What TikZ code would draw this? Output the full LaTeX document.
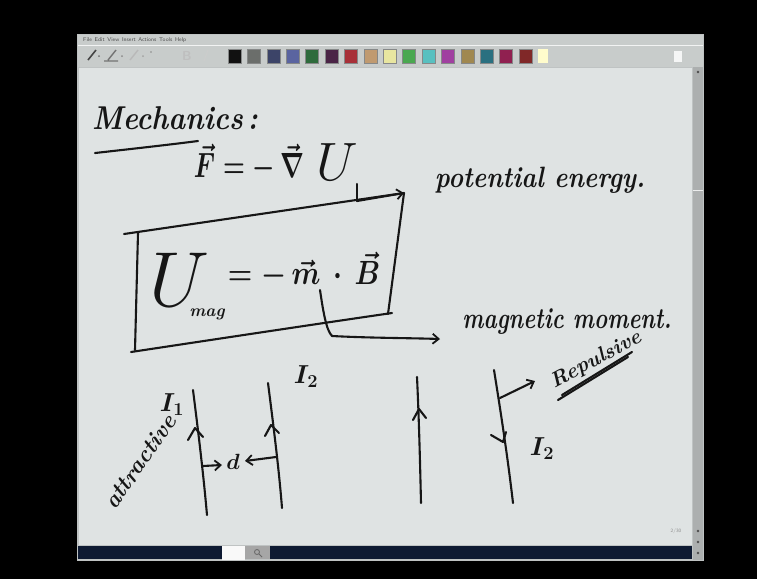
\RequirePackage{fix-cm}
\documentclass[tikz,border=0pt]{standalone}
\usetikzlibrary{arrows.meta}
\definecolor{inkc}{HTML}{161616}
\definecolor{pagec}{HTML}{DFE3E3}
\definecolor{winc}{HTML}{BFC3C3}
\definecolor{barc}{HTML}{C8CCCB}
\definecolor{navyc}{HTML}{0E1A32}
\begin{document}
\begin{tikzpicture}[x=1pt,y=-1pt,
  ink/.style={draw=inkc,line width=2.1pt,line cap=round,line join=round},
  inkarrow/.style={ink,-{Straight Barb[length=6pt,width=10pt,line width=1.8pt]}},
  hand/.style={text=inkc,font=\fontsize{#1}{#1}\selectfont\bfseries\itshape,inner sep=0pt},
  mhand/.style={text=inkc,font=\fontsize{#1}{#1}\selectfont\mathversion{bold},inner sep=0pt},
  bighand/.style={text=inkc,font=\fontsize{#1}{#1}\selectfont,inner sep=0pt},
  swatch/.style={fill=#1,minimum width=13pt,minimum height=14pt,inner sep=0pt,draw=winc!70!black,line width=0.3pt},
  tiny/.style={font=\fontsize{5.5}{6}\selectfont\sffamily,text=black!70,inner sep=0pt}]
\useasboundingbox (0,0) rectangle (757,579);
\fill[black] (0,0) rectangle (757,579);
% window
\fill[winc] (77,34) rectangle (704,561);
\fill[barc] (78,35) rectangle (703,45);
\node[tiny,anchor=west] (menu) at (83,40) {File\enspace Edit\enspace View\enspace Insert\enspace Actions\enspace Tools\enspace Help};
\fill[barc] (78,46) rectangle (703,67);
\draw[white!80!winc,line width=0.6pt] (78,45.5) -- (703,45.5);
% pen tools
\draw[inkc!80,line width=1.6pt] (88,60) -- (96,50);
\fill[inkc!60] (99,56) circle (1pt);
\draw[inkc!60,line width=1.4pt] (108,60) -- (116,50) (104,61) -- (118,61);
\fill[inkc!50] (122,56) circle (1pt);
\draw[inkc!30,line width=1.4pt] (130,60) -- (138,50);
\fill[inkc!40] (143,56) circle (1pt);
\fill[inkc!50] (151,52) circle (0.8pt);
\node[tiny,text=black!25,font=\fontsize{13}{13}\selectfont\bfseries\sffamily] (bold) at (187,56) {B};
\draw[black!20,line width=1pt] (204,61) -- (208,50);
% colour swatches
\foreach \c [count=\i] in {111111,6B6E6B,3C4468,5A64A0,2E6B3C,4A2446,A83038,C09A70,E8E6A0,4AA850,58C0C0,A040A0,A08850,2A7080,902050,802828}{
  \definecolor{sw}{HTML}{\c}
  \node[swatch=sw] (sw\i) at ({215+19.4*\i},56) {};
}
\node[swatch=white!80!yellow,draw=none,minimum width=10pt] (sw17) at (543,56) {};
\fill[white!85!winc] (674,51) rectangle (682,62);
% page
\fill[pagec] (79,68) rectangle (692,545);
% right scrollbar
\fill[winc!90!black] (693,67) rectangle (703,560);
\fill[black!70] (698,72) circle (1.3pt) (698,531) circle (1.3pt) (698,542) circle (1.3pt) (698,553) circle (1.3pt);
\draw[white!70!winc,line width=1pt] (692.5,190) -- (703,190);
% bottom scrollbar
\fill[navyc] (78,546) rectangle (692,559);
\fill[white!90!winc] (222,546) rectangle (245,560);
\fill[black!35] (245,546) rectangle (270,559);
\draw[black!60,line width=0.8pt] (257,552) circle (2.5pt) (259,554) -- (262,557);
\node[tiny,text=black!45,font=\fontsize{5}{5}\selectfont\sffamily] (pg) at (676,531) {2/30};

% ---------- handwriting ----------
\node[hand=30] (mech) at (175,118) {\scalebox{0.95}[1.1]{Mechanics\,:}};
\draw[ink] (95,153) .. controls (140,148) and (175,144) .. (198,141);

\node[mhand=25] (F) at (249,163) {\scalebox{1}[1.4]{$\vec{F} = -\,\vec{\nabla}$}};
\node[bighand=54] (U) at (337,162) {$U$};
\node[hand=28] (pe) at (540,180) {\scalebox{0.9}[1.05]{potential energy.}};
\coordinate (Ut) at (357,184);
\draw[ink] (Ut) -- (357,201);
\draw[inkarrow] (357,201) -- (404,193);

% box
\draw[ink] (124,234) -- (404,193);
\draw[ink] (404,193) -- (388,314);
\draw[ink] (138,233) -- (135,350);
\draw[ink] (131,352) .. controls (250,334) and (330,322) .. (392,313);

\node[bighand=78] (Umag) at (180,280) {$U$};
\node[hand=17] (mag) at (207,314) {mag};
\node[mhand=28] (mB) at (304,271) {\scalebox{1}[1.2]{$=-\,\vec{m}\,\cdot\,\vec{B}$}};
\node[hand=28] (mm) at (567,322) {\scalebox{0.8}[1.05]{magnetic moment.}};
\draw[ink] (320,290) .. controls (323,310) and (326,330) .. (332,336);
\draw[inkarrow] (332,336) .. controls (370,338) and (410,338) .. (440,339);

% wires
\draw[ink] (193,390) .. controls (198,430) and (203,470) .. (207,515);
\draw[ink] (188,440) -- (195,428) -- (203,437);
\draw[ink] (268,383) .. controls (274,430) and (279,470) .. (282,508);
\draw[ink] (265,436) -- (271,425) -- (279,433);
\draw[ink] (417,377) .. controls (419,420) and (420,460) .. (421,503);
\draw[ink] (413,420) -- (419,409) -- (426,418);
\draw[ink] (494,370) .. controls (502,420) and (508,460) .. (513,503);
\draw[ink] (491,435) -- (503,442) -- (506,432);

\node[mhand=26] (I1) at (172,405) {$I_1$};
\node[mhand=26] (I2a) at (306,377) {$I_2$};
\node[mhand=26] (I2b) at (542,449) {$I_2$};
\node[hand=23,rotate=55] (attr) at (140,462) {attractive};
\node[mhand=22] (d) at (233,462) {$d$};
\draw[inkarrow] (203,466) -- (222,465);
\draw[inkarrow] (276,457) -- (245,461);
\draw[inkarrow] (500,398) -- (535,381);
\node[hand=21,rotate=28] (rep) at (596,360) {Repulsive};
\draw[ink] (558,400) -- (628,357);
\draw[ink] (562,395) -- (632,352);
\end{tikzpicture}
\end{document}
